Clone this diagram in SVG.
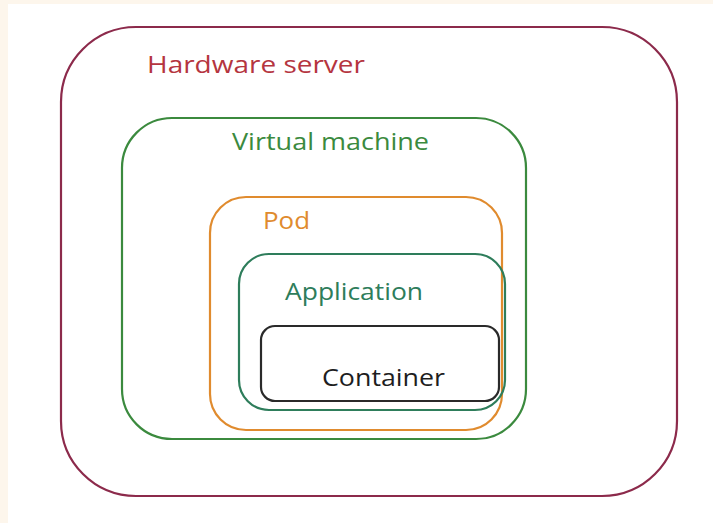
<svg xmlns="http://www.w3.org/2000/svg" width="713" height="523" viewBox="0 0 713 523">
  <style>
    .box { fill: none; stroke-width: 2.2; stroke-linecap: round; }
    .lbl { font-family: "Open Sans", "Liberation Sans", sans-serif; font-size: 24px; }
  </style>
  <rect x="0" y="0" width="713" height="523" fill="#fdf6ec"/>
  <rect x="8" y="4" width="705" height="519" fill="#ffffff"/>
  <g id="hardware-server">
    <rect class="box" x="61" y="27" width="616" height="469" rx="75" ry="75" stroke="#8c2a4b"/>
    <text class="lbl" x="147" y="73" fill="#b5353f" textLength="218" lengthAdjust="spacingAndGlyphs">Hardware server</text>
  </g>
  <g id="virtual-machine">
    <rect class="box" x="122" y="118" width="404" height="321" rx="50" ry="50" stroke="#3b8a3e"/>
    <text class="lbl" x="232" y="150" fill="#3b8a3e" textLength="197" lengthAdjust="spacingAndGlyphs">Virtual machine</text>
  </g>
  <g id="pod">
    <rect class="box" x="210" y="197" width="292" height="233" rx="36" ry="36" stroke="#e08b2e"/>
    <text class="lbl" x="263" y="229" fill="#e08b2e" textLength="47" lengthAdjust="spacingAndGlyphs">Pod</text>
  </g>
  <g id="application">
    <rect class="box" x="239" y="254" width="266" height="156" rx="30" ry="30" stroke="#2e7d5b"/>
    <text class="lbl" x="285" y="300" fill="#2e7d5b" textLength="138" lengthAdjust="spacingAndGlyphs">Application</text>
  </g>
  <g id="container">
    <rect class="box" x="261" y="326" width="238" height="75" rx="14" ry="14" stroke="#2a2a2a"/>
    <text class="lbl" x="322" y="386" fill="#1e1e1e" textLength="123" lengthAdjust="spacingAndGlyphs">Container</text>
  </g>
  <g id="connectors"/>
</svg>
